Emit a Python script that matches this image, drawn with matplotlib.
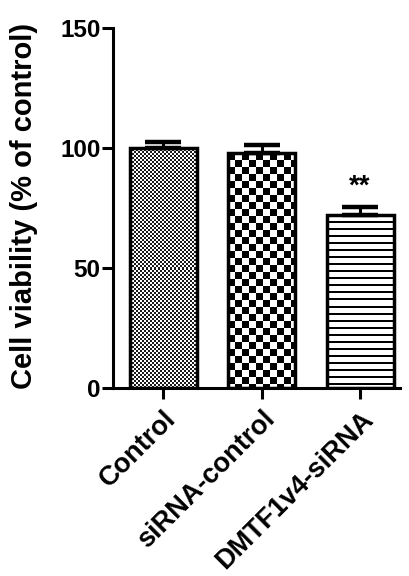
import numpy as np
import matplotlib
matplotlib.use("Agg")
import matplotlib.pyplot as plt

categories = ["Control", "siRNA-control", "DMTF1v4-siRNA"]
values = [100.0, 97.9, 72.1]
errors = [2.6, 3.4, 3.4]
annotations = ["", "", "**"]
ylabel = "Cell viability (% of control)"
yticks = [0, 50, 100, 150]

plt.rcParams['font.family'] = ['Liberation Sans', 'DejaVu Sans']
plt.rcParams['font.weight'] = 'bold'

fig = plt.figure(figsize=(4.09, 5.76), dpi=100)
ax = fig.add_axes([0.2763, 0.3264, 0.7017, 0.625])
ax.set_xlim(-0.508, 2.406)
ax.set_ylim(0, 150)

x = np.arange(len(categories))
bars = ax.bar(x, values, width=0.68, facecolor='none', edgecolor='black',
              linewidth=2.5, zorder=3)

# pattern fills (clipped images)
def pattern(kind, w, h):
    yy, xx = np.mgrid[0:h, 0:w]
    if kind == 'fine':
        c = 2
        return (((xx // c) + (yy // c)) % 2).astype(float) * 0.9 + 0.1
    if kind == 'check':
        c = 7
        return (((xx // c) + (yy // c)) % 2).astype(float)
    # horizontal lines
    return ((yy % 7) >= 2).astype(float)

kinds = ['fine', 'check', 'lines']
for b, k in zip(bars, kinds):
    x0, y0 = b.get_x(), b.get_y()
    x1, y1 = x0 + b.get_width(), y0 + b.get_height()
    p0 = ax.transData.transform((x0, y0))
    p1 = ax.transData.transform((x1, y1))
    w = max(1, int(round(abs(p1[0] - p0[0]))))
    h = max(1, int(round(abs(p1[1] - p0[1]))))
    img = pattern(k, w, h)
    im = ax.imshow(img, cmap='gray', vmin=0, vmax=1, extent=(x0, x1, y0, y1),
                   origin='upper', interpolation='nearest', aspect='auto', zorder=2)
    im.set_clip_path(b)

ax.errorbar(x, values, yerr=[np.zeros(len(values)), errors], fmt='none',
            ecolor='black', elinewidth=2.2, capsize=13, capthick=3.2, zorder=2.5)

for xi, v, e, a in zip(x, values, errors, annotations):
    if a:
        ax.text(xi, v + e + 8.5, a, ha='center', va='center', fontsize=20,
                fontweight='bold')

ax.set_yticks(yticks)
ax.set_yticklabels([str(t) for t in yticks], fontsize=17.5, fontweight='bold')
ax.set_xticks(x)
ax.set_xticklabels(categories, rotation=45, ha='right', va='top',
                   rotation_mode='anchor', fontsize=19.5, fontweight='bold')
ax.tick_params(axis='both', width=2.2, length=8, direction='out', color='black')
ax.tick_params(axis='y', pad=1)
ax.tick_params(axis='x', pad=5)

for s in ['top', 'right']:
    ax.spines[s].set_visible(False)
for s in ['left', 'bottom']:
    ax.spines[s].set_linewidth(2.2)

ax.set_ylabel(ylabel, fontsize=21, fontweight='bold')
ax.yaxis.set_label_coords(-0.261, 0.506)

fig.savefig("out.png", dpi=100)
